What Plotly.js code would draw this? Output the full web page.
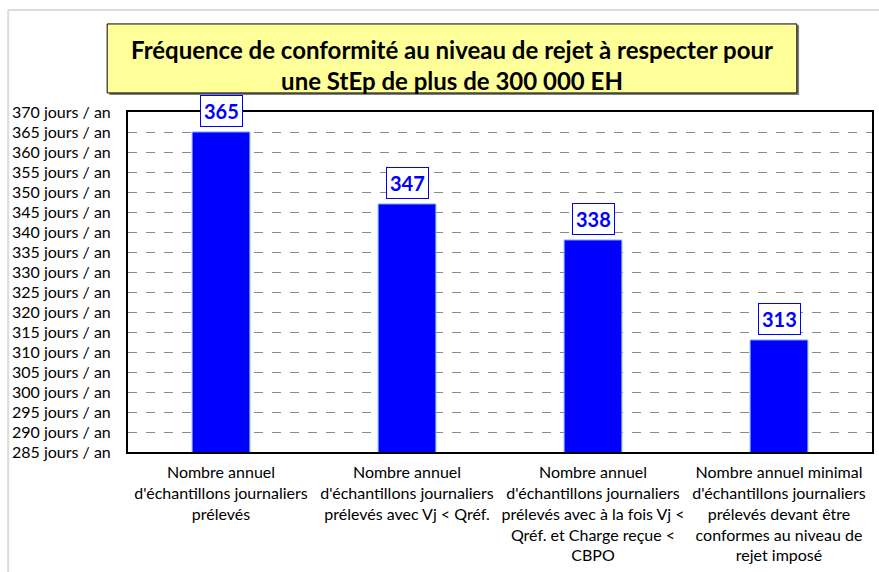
<!DOCTYPE html>
<html>
<head>
<meta charset="utf-8">
<script src="https://cdn.plot.ly/plotly-3.0.1.min.js"></script>
<style>
html,body{margin:0;padding:0;background:#fff;}
#chart{width:879px;height:572px;}
</style>
</head>
<body>
<div id="chart"></div>
<script>
const categories = [
  "Nombre annuel<br>d'échantillons journaliers<br>prélevés",
  "Nombre annuel<br>d'échantillons journaliers<br>prélevés avec Vj &lt; Qréf.",
  "Nombre annuel<br>d'échantillons journaliers<br>prélevés avec à la fois Vj &lt;<br>Qréf. et Charge reçue &lt;<br>CBPO",
  "Nombre annuel minimal<br>d'échantillons journaliers<br>prélevés devant être<br>conformes au niveau de<br>rejet imposé"
];
const values = [365, 347, 338, 313];
const tickValues = [285, 290, 295, 300, 305, 310, 315, 320, 325, 330, 335, 340, 345, 350, 355, 360, 365, 370];
const titleText = "Fréquence de conformité au niveau de rejet à respecter pour<br>une StEp de plus de 300 000 EH";

const FONT = "Lato, 'Open Sans', sans-serif";

const trace = {
  type: 'bar',
  x: categories,
  y: values,
  marker: {color: '#0000ff', line: {color: '#6fa8ff', width: 1}},
  hoverinfo: 'none'
};

const annotations = categories.map((c, i) => ({
  x: c, y: values[i], xref: 'x', yref: 'y',
  text: '<b>' + values[i] + '</b>',
  showarrow: false, yanchor: 'bottom', yshift: 5,
  font: {family: FONT, size: 20, color: '#0000ff'},
  bgcolor: '#ffffff', bordercolor: '#0000ff', borderwidth: 1, borderpad: 3
}));

const layout = {
  width: 879, height: 572,
  margin: {l: 128, r: 7, t: 112, b: 120},
  paper_bgcolor: '#ffffff', plot_bgcolor: '#ffffff',
  showlegend: false,
  bargap: 0.69,
  font: {family: FONT, size: 16, color: '#000'},
  title: {
    text: '<b>' + titleText + '</b>',
    font: {family: FONT, size: 24, color: '#000'},
    x: 452/879, xanchor: 'center', xref: 'container',
    y: 1 - 59/572, yanchor: 'middle', yref: 'container'
  },
  xaxis: {
    type: 'category',
    showgrid: false, zeroline: false,
    showline: true, linecolor: '#000', linewidth: 2, mirror: true,
    ticks: '', tickfont: {family: FONT, size: 16, color: '#000'},
    ticklabelstandoff: 5
  },
  yaxis: {
    range: [285, 370],
    tickmode: 'array', tickvals: tickValues,
    ticktext: tickValues.map(v => v + ' jours / an'),
    showgrid: true, gridcolor: '#8a8a8a', griddash: 'dash', gridwidth: 1,
    zeroline: false,
    showline: true, linecolor: '#000', linewidth: 2, mirror: true,
    ticks: '', ticklabelstandoff: 12,
    tickfont: {family: FONT, size: 16, color: '#000'}
  },
  shapes: [
    {type: 'line', xref: 'paper', yref: 'paper', x0: -0.161, x1: 1.01, y0: 1.3, y1: 1.3, line: {color: '#dcdcdc', width: 2}, layer: 'below'},
    {type: 'line', xref: 'paper', yref: 'paper', x0: -0.161, x1: -0.161, y0: 1.3, y1: -0.36, line: {color: '#dcdcdc', width: 2}, layer: 'below'},
    {type: 'rect', xref: 'paper', yref: 'paper', x0: -0.025, x1: 0.902, y0: 1.050, y1: 1.255, fillcolor: '#7f7f7f', line: {width: 0}, layer: 'below'},
    {type: 'rect', xref: 'paper', yref: 'paper', x0: -0.028, x1: 0.899, y0: 1.056, y1: 1.259, fillcolor: '#ffff99', line: {color: '#000', width: 1}, layer: 'below'}
  ],
  annotations: annotations
};

Plotly.newPlot('chart', [trace], layout, {displayModeBar: false, staticPlot: true});
</script>
</body>
</html>
